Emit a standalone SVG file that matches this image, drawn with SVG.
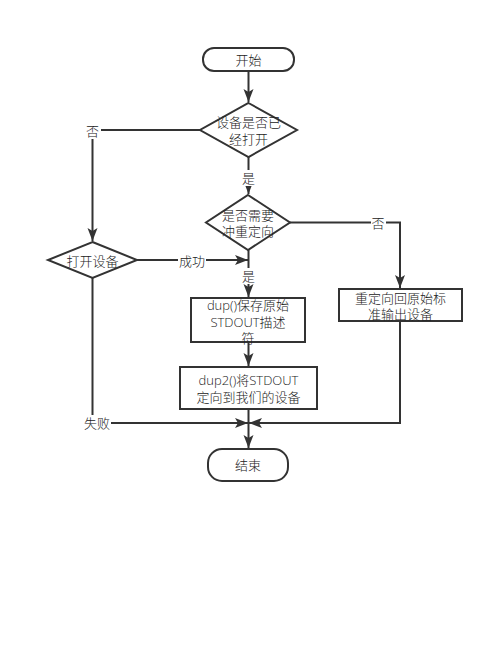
<svg xmlns="http://www.w3.org/2000/svg" width="494" height="655" viewBox="0 0 494 655">
<defs>
<style>
.n{fill:#fff;stroke:#333;stroke-width:2}
.c{fill:none;stroke:#333;stroke-width:2}
text{font-family:"Open Sans","Noto Sans CJK SC",sans-serif;font-size:13px;font-weight:300;fill:#222;text-anchor:middle;dominant-baseline:central}
.lb{fill:#fff;stroke:none}
</style>
<marker id="a" markerUnits="userSpaceOnUse" markerWidth="14" markerHeight="12" viewBox="0 0 14 12" refX="13" refY="6" orient="auto">
<path d="M0,1 L13,6 L0,11 L3,6 Z" fill="#333"/>
</marker>
</defs>
<rect width="494" height="655" fill="#fff"/>
<g id="connectors">
<path class="c" d="M248.5,71 V102" marker-end="url(#a)"/>
<path class="c" d="M200,130 H92.5 V241" marker-end="url(#a)"/>
<path class="c" d="M248.5,157 V194" marker-end="url(#a)"/>
<path class="c" d="M137,260 H248" marker-end="url(#a)"/>
<path class="c" d="M248.5,250 V297" marker-end="url(#a)"/>
<path class="c" d="M290,222.5 H400 V288" marker-end="url(#a)"/>
<path class="c" d="M248.5,342 V366" marker-end="url(#a)"/>
<path class="c" d="M92.5,278 V423 H248" marker-end="url(#a)"/>
<path class="c" d="M400,321 V423 H249" marker-end="url(#a)"/>
<path class="c" d="M248.5,409 V448" marker-end="url(#a)"/>
<rect class="lb" x="84" y="122" width="17" height="17"/>
<text x="92.5" y="131">否</text>
<rect class="lb" x="241" y="170" width="15" height="16"/>
<text x="248.5" y="178">是</text>
<rect class="lb" x="178" y="252" width="28" height="16"/>
<text x="192" y="261">成功</text>
<rect class="lb" x="241" y="268" width="15" height="16"/>
<text x="248.5" y="276">是</text>
<rect class="lb" x="371" y="214" width="15" height="16"/>
<text x="378" y="223">否</text>
<rect class="lb" x="82" y="415" width="29" height="17"/>
<text x="97" y="423">失败</text>
</g>
<g id="start">
<rect class="n" x="203" y="48" width="91" height="23" rx="11" ry="11"/>
<text x="248.5" y="59.5">开始</text>
</g>
<g id="d1">
<polygon class="n" points="248.5,103 297,130 248.5,157 200,130"/>
<text x="248.5" y="122">设备是否已</text>
<text x="248.5" y="138.5">经打开</text>
</g>
<g id="d2">
<polygon class="n" points="248,195 290,222.5 248,250 206,222.5"/>
<text x="248" y="214.5">是否需要</text>
<text x="248" y="231">冲重定向</text>
</g>
<g id="open">
<polygon class="n" points="92.5,242 137,260 92.5,278 48,260"/>
<text x="92.5" y="260.5">打开设备</text>
</g>
<g id="dup">
<rect class="n" x="191" y="298" width="114" height="44"/>
<text x="248" y="305">dup()保存原始</text>
<text x="248" y="321.5">STDOUT描述</text>
<text x="248" y="338">符</text>
</g>
<g id="dup2">
<rect class="n" x="180" y="367" width="137" height="42"/>
<text x="248.5" y="380">dup2()将STDOUT</text>
<text x="248.5" y="396.5">定向到我们的设备</text>
</g>
<g id="restore">
<rect class="n" x="339" y="289" width="123" height="32"/>
<text x="400.5" y="297.5">重定向回原始标</text>
<text x="400.5" y="314">准输出设备</text>
</g>
<g id="end">
<rect class="n" x="208" y="449" width="80" height="32" rx="14" ry="14"/>
<text x="248" y="465">结束</text>
</g>
</svg>
